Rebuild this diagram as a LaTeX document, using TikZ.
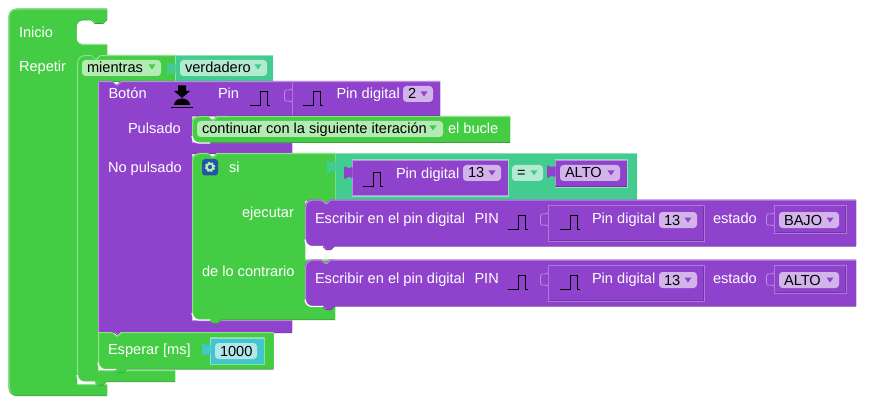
\documentclass[tikz,border=0pt]{standalone}
\usepackage{fontspec}
\setmainfont{Liberation Sans}
\usetikzlibrary{calc}
\definecolor{gmain}{HTML}{44CC44}
\definecolor{gdark}{HTML}{36A336}
\definecolor{glite}{HTML}{8FE08F}
\definecolor{pmain}{HTML}{8F42CC}
\definecolor{pdark}{HTML}{7235A3}
\definecolor{plite}{HTML}{BC8EE0}
\definecolor{tmain}{HTML}{42CC8F}
\definecolor{tdark}{HTML}{35A372}
\definecolor{tlite}{HTML}{8EE0BC}
\definecolor{cmain}{HTML}{42C5CC}
\definecolor{cdark}{HTML}{359EA3}
\definecolor{clite}{HTML}{8EDCE0}
\definecolor{gpill}{HTML}{B4EBB4}
\definecolor{ppill}{HTML}{D2B4EB}
\definecolor{tpill}{HTML}{B3EBD2}
\definecolor{cpill}{HTML}{B3E8EB}
\definecolor{gearbox}{HTML}{2255A8}
\tikzset{
    lbl/.style={anchor=base west,inner sep=0pt,outer sep=0pt,text=white,font=\fontsize{14.6}{16}\selectfont},
    pilltxt/.style={lbl,text=black},
    pulse/.style={black,line width=0.8pt,line join=miter},
    rim/.style={line width=.8pt},
}
% notch on a top edge, tab on a bottom edge
\def\nR{-- ++(4,0) -- ++(4,3.5) -- ++(1,0) -- ++(3.5,-3.5)}
\def\tL{-- ++(-3.5,3.5) -- ++(-5,0) -- ++(-4,-3.5)}
% fill, shadow, highlight, path
\newcommand{\blockshape}[4]{
    \fill[#2,yshift=-1pt] #4;
    \fill[#1] #4;
    \begin{scope}
        \clip #4;
        \draw[#3,line width=1pt,xshift=.7pt,yshift=-.7pt] #4;
    \end{scope}
}
\newcommand{\pill}[6]{% name, x0, x1, y0, colour, text
    \fill[#5,rounded corners=3.5pt] (#2,#4) rectangle (#3,#4+16);
    \node[pilltxt] (#1) at (#2+5,#4+13) {#6};
}
\newcommand{\droparrow}[3]{% x, y, colour
    \fill[#3] (#1-3.5,#2-2.5) -- (#1+3.5,#2-2.5) -- (#1,#2+2.5) -- cycle;
}
\newcommand{\pulseat}[2]{
    \draw[pulse] (#1,#2) -- ++(10,0) -- ++(0,-14) -- ++(7,0) -- ++(0,14) -- ++(3,0);
}
% value tab
\newcommand{\vtab}[3]{% x of the right side, top y, colour
    \fill[#3,rounded corners=1.2pt] (#1+.5,#2+.5) -- (#1-3,#2+2.5) -- (#1-8,#2) -- (#1-8,#2+13.5) -- (#1-3,#2+10.5) -- (#1+.5,#2+12.5) -- cycle;
}
% empty socket
\newcommand{\socket}[3]{% x of the right side, y, colour
    \draw[#3,line width=.8pt] (#1,#2) -- ++(-3,1) -- ++(-3.5,0) -- ++(-1,2) -- ++(0,7) -- ++(1,2) -- ++(3.5,0) -- ++(3,1);
}
% gap under a rounded corner
\newcommand{\gaparc}[2]{
    \draw[white,line width=1.2pt] (#1,#2-6) to[out=-90,in=180] (#1+7,#2+1) -- ++(11,0);
}
\begin{document}
\begin{tikzpicture}[x=1pt,y=-1pt]
    \useasboundingbox[fill=white] (0,0) rectangle (896,406);
    %outer block
    \blockshape{gmain}{gdark}{glite}{(8.5,16) to[out=90,in=180] (16.5,8.5) -- (107,8.5) -- (107,19.3) -- ++(-4,3.7) -- ++(-8,0) -- ++(-4,-3.7) -- (83,19.3) to[out=180,in=90] (76.5,26) -- (76.5,38) to[out=-90,in=180] (83,44) -- (107,44) -- (107,60) -- (77,60) -- (77,384) -- (107,384) -- (107,395) -- (16.5,395) to[out=180,in=-90] (8.5,387) -- cycle}
    %mientras block with the feet of the statement
    \blockshape{gmain}{gdark}{glite}{(77,62) to[out=90,in=180] (84,55) -- (91,55) -- ++(4,3.5) -- ++(1,0) -- ++(3.5,-3.5) -- (175,55) -- (175,81) -- (134,81) \tL -- (98,81) -- (98,370) -- (175,370) -- (175,381) -- (106.5,381) \tL -- (85,381) to[out=180,in=-90] (77,373) -- cycle}
    \gaparc{77}{381}
    \blockshape{tmain}{tdark}{tlite}{(175,55) -- (273,55) -- (273,81) -- (175,81) -- cycle}
    %boton block
    \blockshape{pmain}{pdark}{plite}{(98,81) -- (108,81) \nR -- (440,81) -- (440,115.5) -- (228,115.5) \tL -- (192,115.5) -- (192,142) -- (292,142) -- (292,153) -- (228,153) \tL -- (192,153) -- (192,320) -- (292,320) -- (292,332) -- (127,332) \tL -- (98,332) -- cycle}
    %continuar block
    \blockshape{gmain}{gdark}{glite}{(192,122) to[out=90,in=180] (199,116) -- (204,116) \nR -- (510,116) -- (510,142) -- (199,142) to[out=180,in=-90] (192,136) -- cycle}
    \gaparc{192}{142}
    %si block
    \blockshape{tmain}{tdark}{tlite}{(335,153) -- (637,153) -- (637,199.5) -- (335,199.5) -- cycle}
    \blockshape{gmain}{gdark}{glite}{(192,160) to[out=90,in=180] (199,153) -- (204,153) \nR -- (335,153) -- (335,199.5) -- (333.5,199.5) \tL -- (305,199.5) -- (305,259.5) -- (333.5,259.5) \tL -- (335,259.5) -- (335,319) -- (221.5,319) \tL -- (199,319) to[out=180,in=-90] (192,312) -- cycle}
    \gaparc{192}{319}
    %esperar block
    \blockshape{gmain}{gdark}{glite}{(98,332) -- (108,332) \nR -- (273.5,332) -- (273.5,368.5) -- (126.5,368.5) \tL -- (105,368.5) to[out=180,in=-90] (98,362) -- cycle}
    \gaparc{98}{368.5}
    \blockshape{cmain}{cdark}{clite}{(210,338) -- (264,338) -- (264,364) -- (210,364) -- cycle}
    \draw[glite,rim] (210,364.5) -- (264.5,364.5) -- (264.5,337.5) -- (210,337.5);
    \vtab{210}{343}{cmain}
    %the two write blocks
    \foreach \y in {0,60}{
        \blockshape{pmain}{pdark}{plite}{(305,206.5+\y) to[out=90,in=180] (312,199.5+\y) -- (317,199.5+\y) \nR -- (856,199.5+\y) -- (856,245.5+\y) -- (334.5,245.5+\y) \tL -- (312,245.5+\y) to[out=180,in=-90] (305,239+\y) -- cycle}
        \gaparc{305}{245.5+\y}
        \node[lbl] (esc\y) at (315,223+\y) {Escribir en el pin digital};
        \node[lbl] (pin\y) at (474.5,223+\y) {PIN};
        \pulseat{508}{229+\y}
        \socket{548}{213+\y}{plite}
        \draw[plite!70!pmain,rim] (548,205+\y) -- (704,205+\y) -- (704,241+\y) -- (548,241+\y) -- cycle;
        \draw[pdark,line width=.7pt] (549,240+\y) -- (703,240+\y) -- (703,206+\y);
        \pulseat{560}{229+\y}
        \node[lbl] (dig\y) at (592,223+\y) {Pin digital};
        \pill{num\y}{659}{697}{212+\y}{ppill}{13}
        \droparrow{688}{220+\y}{pmain}
        \node[lbl] (est\y) at (713,223+\y) {estado};
        \socket{774}{213+\y}{plite}
        \draw[plite!70!pmain,rim] (774,205+\y) -- (846,205+\y) -- (846,233+\y) -- (774,233+\y) -- cycle;
        \draw[pdark,line width=.7pt] (775,232+\y) -- (845,232+\y) -- (845,206+\y);
    }
    \pill{bajo}{779}{839}{212}{ppill}{BAJO}
    \droparrow{830}{220}{pmain}
    \pill{alto}{779}{839}{272}{ppill}{ALTO}
    \droparrow{830}{280}{pmain}
    %condition of the si block
    \vtab{335}{160}{tmain}
    \blockshape{pmain}{pdark}{plite}{(352,160) -- (508,160) -- (508,195) -- (352,195) -- cycle}
    \draw[tlite,rim] (351.5,159.5) -- (508.5,159.5) -- (508.5,196) -- (351.5,196);
    \vtab{352}{166}{pmain}
    \pulseat{363}{186}
    \node[lbl] (pdc) at (396,178.5) {Pin digital};
    \pill{num}{463}{501}{165}{ppill}{13}
    \droparrow{492}{173}{pmain}
    \pill{igual}{512}{543}{165}{tpill}{=}
    \droparrow{534}{173}{tmain}
    \blockshape{pmain}{pdark}{plite}{(555,160) -- (627,160) -- (627,186) -- (555,186) -- cycle}
    \draw[tlite,rim] (554.5,159.5) -- (627.5,159.5) -- (627.5,187) -- (554.5,187);
    \vtab{555}{165}{pmain}
    \pill{altoc}{560}{620}{165}{ppill}{ALTO}
    \droparrow{611}{173}{pmain}
    %value of the boton block
    \socket{292}{89}{plite}
    \draw[plite!70!pmain,rim] (292,81.5) -- (292,115);
    \pulseat{250}{105}
    \pulseat{303}{105}
    \node[lbl] (pdb) at (336.5,99) {Pin digital};
    \pill{two}{403}{433}{86}{ppill}{2}
    \droparrow{424}{94}{pmain}
    %labels
    \node[lbl] (inicio) at (19,37.5) {Inicio};
    \node[lbl] (repetir) at (19,72) {Repetir};
    \pill{mientras}{82}{161}{60}{gpill}{mientras}
    \droparrow{152}{67}{gmain}
    \vtab{175}{62}{tmain}
    \pill{verdad}{180}{267}{60}{tpill}{verdadero}
    \droparrow{258}{67}{tmain}
    \node[lbl] (boton) at (108.5,99) {Botón};
    \node[lbl] (pinb) at (218,99) {Pin};
    %button icon
    \fill[black] (178,85.5) rectangle (186,91) (174,91) -- (190,91) -- (182,98) -- cycle;
    \fill[black] (174,105) to[out=90,in=180] (182,98.5) to[out=0,in=90] (190,105) -- cycle;
    \fill[black] (171,107) rectangle (193,108.5);
    \node[lbl] (pulsado) at (128,133.5) {Pulsado};
    \pill{cont}{197}{443}{121}{gpill}{continuar con la siguiente iteración}
    \droparrow{433}{128}{gmain}
    \node[lbl] (bucle) at (448,133.5) {el bucle};
    \node[lbl] (nop) at (108,172) {No pulsado};
    %gear
    \fill[gearbox,rounded corners=3pt] (202,159) rectangle (218,175.5);
    \draw[gpill,line width=2pt] (210,167) circle (3.3pt);
    \draw[gpill,line width=1.5pt,dash pattern=on 2pt off 1.6pt] (210,167) circle (4.6pt);
    \node[lbl] (si) at (229,172) {si};
    \node[lbl] (ejec) at (242,217) {ejecutar};
    \node[lbl] (contr) at (202,276.5) {de lo contrario};
    \node[lbl] (esp) at (108,354.5) {Esperar [ms]};
    \pill{mil}{215}{257}{343}{cpill}{1000}
\end{tikzpicture}
\end{document}
